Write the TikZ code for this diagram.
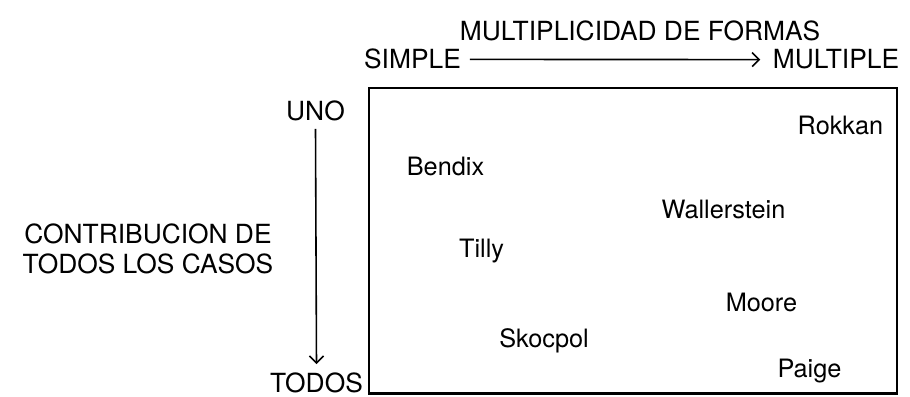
\documentclass[tikz,border=0pt]{standalone}
\usepackage{fontspec}
\setmainfont{TeX Gyre Heros}
\usepackage{tikz}
\usetikzlibrary{arrows.meta}
\usetikzlibrary{positioning}

\begin{document}
\begin{tikzpicture}[
		every node/.style={font=\fontsize{15}{17.5}\selectfont},
		nombre/.style={anchor=base, inner sep=0pt, font=\fontsize{14.4}{17}\selectfont},
		eje/.style={anchor=base, inner sep=5pt},
		flecha/.style={-{Straight Barb[length=4pt,width=8pt]}, line width=0.9pt}
	]
		\useasboundingbox (0,0) rectangle (18.2,7.94);
		\draw[line width=1.2pt] (7.38,0.07) rectangle (17.94,6.18);
		\node (titulo) at (12.80,7.12) [eje, inner sep=0pt] {MULTIPLICIDAD DE FORMAS};
		\node (simple) at (8.25,6.56) [eje] {SIMPLE};
		\node (multiple) at (16.72,6.56) [eje, inner sep=7pt] {MULTIPLE};
		\node (uno) at (6.31,5.52) [eje, inner sep=4pt] {UNO};
		\node (todos) at (6.33,0.08) [eje] {TODOS};
		\node (contrib) at (2.96,2.96) [align=center, inner sep=0pt] {CONTRIBUCION DE\\TODOS LOS CASOS};
		\draw[flecha] (simple) -- (multiple);
		\draw[flecha] (uno.south) -- (todos.north);
		\node (bendix) at (8.91,4.42) [nombre] {Bendix};
		\node (rokkan) at (16.81,5.24) [nombre] {Rokkan};
		\node (wallerstein) at (14.47,3.56) [nombre] {Wallerstein};
		\node (tilly) at (9.63,2.78) [nombre] {Tilly};
		\node (moore) at (15.23,1.70) [nombre] {Moore};
		\node (skocpol) at (10.88,0.98) [nombre] {Skocpol};
		\node (paige) at (16.19,0.38) [nombre] {Paige};
	\end{tikzpicture}
\end{document}
